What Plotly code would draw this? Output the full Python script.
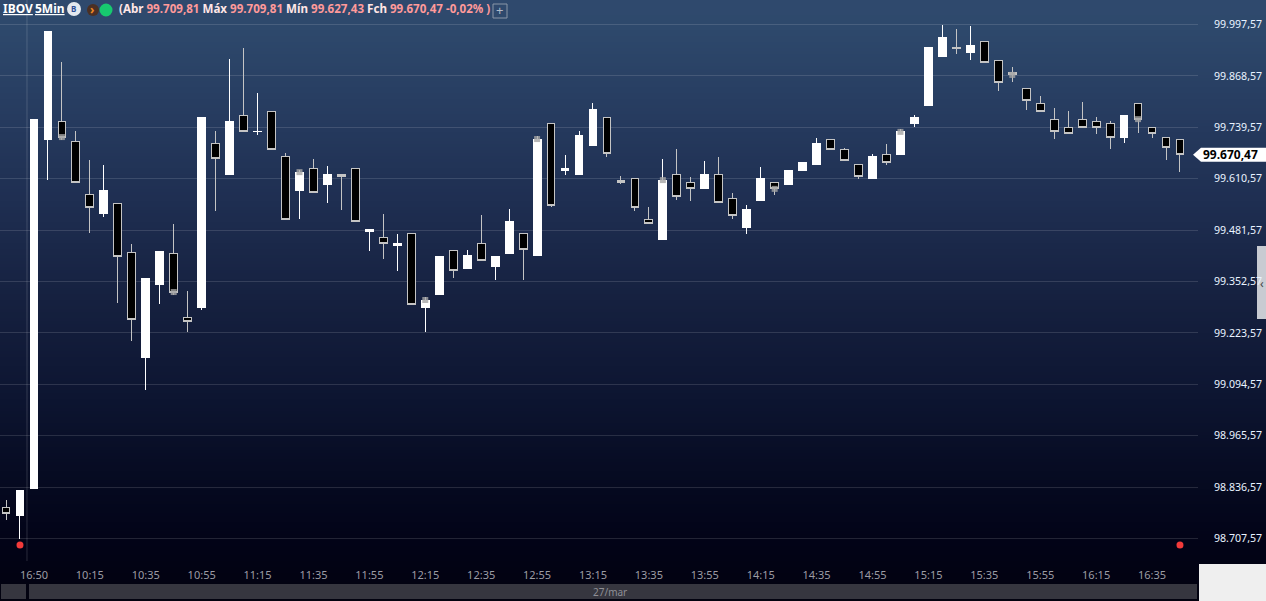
# IBOV 5Min candles, 27/mar
import numpy as np
import plotly.graph_objects as go

opens = [98786, 98766, 98832, 99708, 99753, 99705, 99570, 99524, 99549, 99426,
         99163, 99344, 99424, 99261, 99286, 99700, 99622, 99770, 99728, 99778,
         99667, 99580, 99635, 99595, 99620, 99637, 99479, 99462, 99442, 99474,
         99288, 99321, 99431, 99386, 99447, 99391, 99424, 99472, 99419, 99750,
         99630, 99622, 99693, 99763, 99607, 99610, 99509, 99459, 99622, 99602,
         99587, 99620, 99562, 99487, 99557, 99602, 99595, 99632, 99645, 99710,
         99685, 99645, 99610, 99672, 99670, 99748, 99793, 99918, 99940, 99928,
         99956, 99908, 99876, 99838, 99798, 99758, 99738, 99758, 99753, 99748,
         99713, 99800, 99740, 99713, 99709.81]
highs = [98804, 98829, 99758, 99981, 99903, 99730, 99657, 99645, 99549, 99447,
         99359, 99429, 99497, 99329, 99765, 99730, 99911, 99939, 99826, 99778,
         99675, 99632, 99660, 99642, 99620, 99637, 99482, 99522, 99472, 99474,
         99314, 99416, 99431, 99431, 99519, 99416, 99534, 99472, 99718, 99750,
         99670, 99730, 99800, 99763, 99617, 99610, 99539, 99660, 99685, 99615,
         99655, 99665, 99575, 99544, 99640, 99602, 99630, 99650, 99713, 99710,
         99688, 99645, 99672, 99698, 99735, 99770, 99941, 99996, 99986, 99994,
         99956, 99908, 99891, 99838, 99818, 99788, 99780, 99803, 99765, 99755,
         99768, 99800, 99740, 99713, 99709.81]
lows = [98754, 98706, 98832, 99607, 99708, 99602, 99474, 99514, 99298, 99203,
        99080, 99296, 99319, 99226, 99281, 99529, 99622, 99728, 99720, 99683,
        99509, 99509, 99575, 99549, 99532, 99502, 99429, 99409, 99379, 99296,
        99226, 99319, 99361, 99386, 99406, 99356, 99424, 99356, 99419, 99539,
        99620, 99622, 99693, 99665, 99597, 99529, 99497, 99459, 99557, 99554,
        99585, 99552, 99509, 99472, 99557, 99570, 99595, 99630, 99645, 99683,
        99655, 99610, 99610, 99645, 99670, 99740, 99793, 99918, 99923, 99908,
        99901, 99831, 99853, 99783, 99778, 99710, 99725, 99740, 99723, 99685,
        99700, 99725, 99713, 99657, 99627.43]
closes = [98771, 98829, 99758, 99981, 99715, 99602, 99539, 99582, 99414, 99258,
          99359, 99429, 99326, 99253, 99765, 99662, 99753, 99728, 99730, 99683,
          99509, 99627, 99575, 99622, 99615, 99502, 99482, 99447, 99449, 99296,
          99306, 99416, 99381, 99419, 99406, 99416, 99502, 99434, 99710, 99542,
          99637, 99718, 99783, 99675, 99602, 99537, 99497, 99607, 99565, 99585,
          99622, 99552, 99517, 99534, 99612, 99585, 99630, 99650, 99698, 99683,
          99655, 99615, 99665, 99652, 99728, 99763, 99941, 99964, 99938, 99946,
          99901, 99851, 99871, 99808, 99778, 99728, 99725, 99740, 99738, 99715,
          99768, 99760, 99723, 99688, 99670.47]

time_ticks = [2, 6, 10, 14, 18, 22, 26, 30, 34, 38, 42, 46, 50, 54, 58, 62, 66, 70, 74, 78, 82]
time_labels = ["16:50", "10:15", "10:35", "10:55", "11:15", "11:35", "11:55", "12:15", "12:35",
               "12:55", "13:15", "13:35", "13:55", "14:15", "14:35", "14:55", "15:15", "15:35",
               "15:55", "16:15", "16:35"]
price_ticks = [99997.57, 99868.57, 99739.57, 99610.57, 99481.57, 99352.57, 99223.57, 99094.57,
               98965.57, 98836.57, 98707.57]
price_labels = ["99.997,57", "99.868,57", "99.739,57", "99.610,57", "99.481,57", "99.352,57",
                "99.223,57", "99.094,57", "98.965,57", "98.836,57", "98.707,57"]

# small grey studies sitting on some candles
study_idx = [4, 12, 21, 30, 38, 47, 55, 64, 72, 81]
study_vals = [99715, 99326, 99627, 99306, 99710, 99607, 99585, 99728, 99871, 99760]
dot_idx = [1, 84]
dot_vals = [98691, 98691]

W, H = 1266, 601
PLOT_W, PLOT_H = 1198, 561


def px(x):
    return x / PLOT_W


def py(y):
    return 1 - y / PLOT_H


def rect(x0, y0, x1, y1, color, layer="below", **kw):
    return dict(type="rect", xref="paper", yref="paper", x0=px(x0), x1=px(x1), y0=py(y0), y1=py(y1),
                fillcolor=color, line_width=0, layer=layer, **kw)


def circle(cx, cy, r, color):
    return dict(type="circle", xref="paper", yref="paper", x0=px(cx - r), x1=px(cx + r),
                y0=py(cy + r), y1=py(cy - r), fillcolor=color, line_width=0, layer="above")


def note(x, y, text, size=12, color="#ffffff", family="Noto Sans", **kw):
    return dict(xref="paper", yref="paper", x=px(x), y=py(y), text=text, showarrow=False, xanchor="left",
                yanchor="middle", font=dict(family=family, size=size, color=color, **kw),
                borderpad=0, borderwidth=0)


fig = go.Figure()
idx = list(range(len(opens)))
fig.add_trace(go.Candlestick(
    x=idx, open=opens, high=highs, low=lows, close=closes,
    increasing=dict(fillcolor="#ffffff", line=dict(color="#ffffff", width=1)),
    decreasing=dict(fillcolor="#000000", line=dict(color="#c4c4c4", width=1)),
    hoverinfo="skip",
))
fig.add_trace(go.Scatter(x=study_idx, y=study_vals, mode="markers", hoverinfo="skip",
                         marker=dict(symbol="square", size=6, color="rgba(165,165,165,0.8)")))
fig.add_trace(go.Scatter(x=dot_idx, y=dot_vals, mode="markers", hoverinfo="skip",
                         marker=dict(size=7, color="#f23a3a")))

# vertical background gradient as thin bands
grad_y = [0, 30, 100, 200, 300, 400, 470, 540, 601]
grad_r = [48, 46, 40, 31, 22, 13, 7, 3, 2]
grad_g = [74, 73, 62, 47, 33, 21, 12, 4, 2]
grad_b = [110, 108, 98, 82, 64, 49, 35, 24, 15]
shapes = []
for y in range(0, H, 3):
    r, g, b = (int(np.interp(y + 1.5, grad_y, c)) for c in (grad_r, grad_g, grad_b))
    shapes.append(rect(0, y, W, y + 3, f"rgb({r},{g},{b})"))

shapes += [
    rect(1, 584, 26, 599, "#36363f"),
    rect(29, 584, 1197, 599, "#36363f"),
    rect(1199, 564, W, H, "#efefef"),
    rect(1257, 246, W, 319, "#c8cbd2"),
    # day break
    dict(type="line", xref="x", yref="paper", x0=1.5, x1=1.5, y0=0, y1=1, layer="below",
         line=dict(color="rgba(255,255,255,0.16)", width=1)),
    # last price tag
    dict(type="path", xref="paper", yref="y", xsizemode="pixel", ysizemode="pixel",
         xanchor=1, yanchor=closes[-1], path="M -5,0 L 3,-7 L 68,-7 L 68,7 L 3,7 Z",
         fillcolor="#ffffff", line_width=0, layer="above"),
    # header icons
    circle(74, 9, 7, "#e4e8ee"),
    circle(93, 10, 6, "#4b3024"),
    circle(106, 10, 6.5, "#17c96f"),
    dict(type="rect", xref="paper", yref="paper", x0=px(493), x1=px(507), y0=py(18), y1=py(4),
         line=dict(color="#8a97a8", width=1), fillcolor="rgba(0,0,0,0)", layer="above"),
]

pink = "#ff9a9a"
header = ("<b>(Abr <span style='color:{0}'>99.709,81</span> Máx <span style='color:{0}'>99.709,81</span> "
          "Mín <span style='color:{0}'>99.627,43</span> Fch <span style='color:{0}'>99.670,47 -0,02% )</span></b>"
          ).format(pink)
annotations = [
    note(3, 9, "<b>IBOV</b>", lineposition="under"),
    note(35, 9, "<b>5Min</b>", lineposition="under"),
    note(71, 9, "<b>B</b>", size=8, color="#2c4f96"),
    note(90, 10, "<b>›</b>", size=12, color="#f08a24"),
    note(119, 9, header, size=11.6, color="#ffe6e6"),
    note(496, 10.5, "+", size=13, color="#b0bac8"),
    note(1260, 283, "‹", size=12, color="#444444"),
    note(593, 592, "27/mar", size=10, color="#8f8f96"),
    dict(xref="paper", yref="y", x=px(1201), y=closes[-1], text="<b>99.670,47</b>", showarrow=False,
         xanchor="left", yanchor="middle", font=dict(family="Noto Sans", size=12, color="#000000")),
]

fig.update_layout(
    width=W, height=H, autosize=False,
    margin=dict(l=0, r=W - PLOT_W, t=0, b=H - PLOT_H),
    paper_bgcolor="rgba(0,0,0,0)", plot_bgcolor="rgba(0,0,0,0)",
    showlegend=False, boxgap=0.2, boxgroupgap=0.3,
    shapes=shapes, annotations=annotations, hovermode=False,
    xaxis=dict(range=[-0.43, 85.29], rangeslider=dict(visible=False), showgrid=False, zeroline=False,
               tickmode="array", tickvals=time_ticks, ticktext=time_labels, ticks="", ticklabelstandoff=6,
               tickfont=dict(family="Noto Sans", size=11, color="#9c9ca4")),
    yaxis=dict(range=[98651, 100059], side="right", zeroline=False, showgrid=True,
               gridcolor="rgba(255,255,255,0.13)", gridwidth=1,
               tickmode="array", tickvals=price_ticks, ticktext=price_labels, ticks="", ticklabelstandoff=15,
               tickfont=dict(family="Noto Sans", size=10.6, color="#eaf3ff")),
)

# sharp candle corners, the default join comes out rounded
crisp = ("var s=document.createElement('style');"
         "s.textContent='path.box{stroke-linejoin:miter !important;shape-rendering:crispEdges !important}';"
         "document.head.appendChild(s);"
         "document.body.style.margin='0';document.body.style.overflow='hidden';")
fig.write_html("out.html", config=dict(displayModeBar=False), post_script=crisp)
